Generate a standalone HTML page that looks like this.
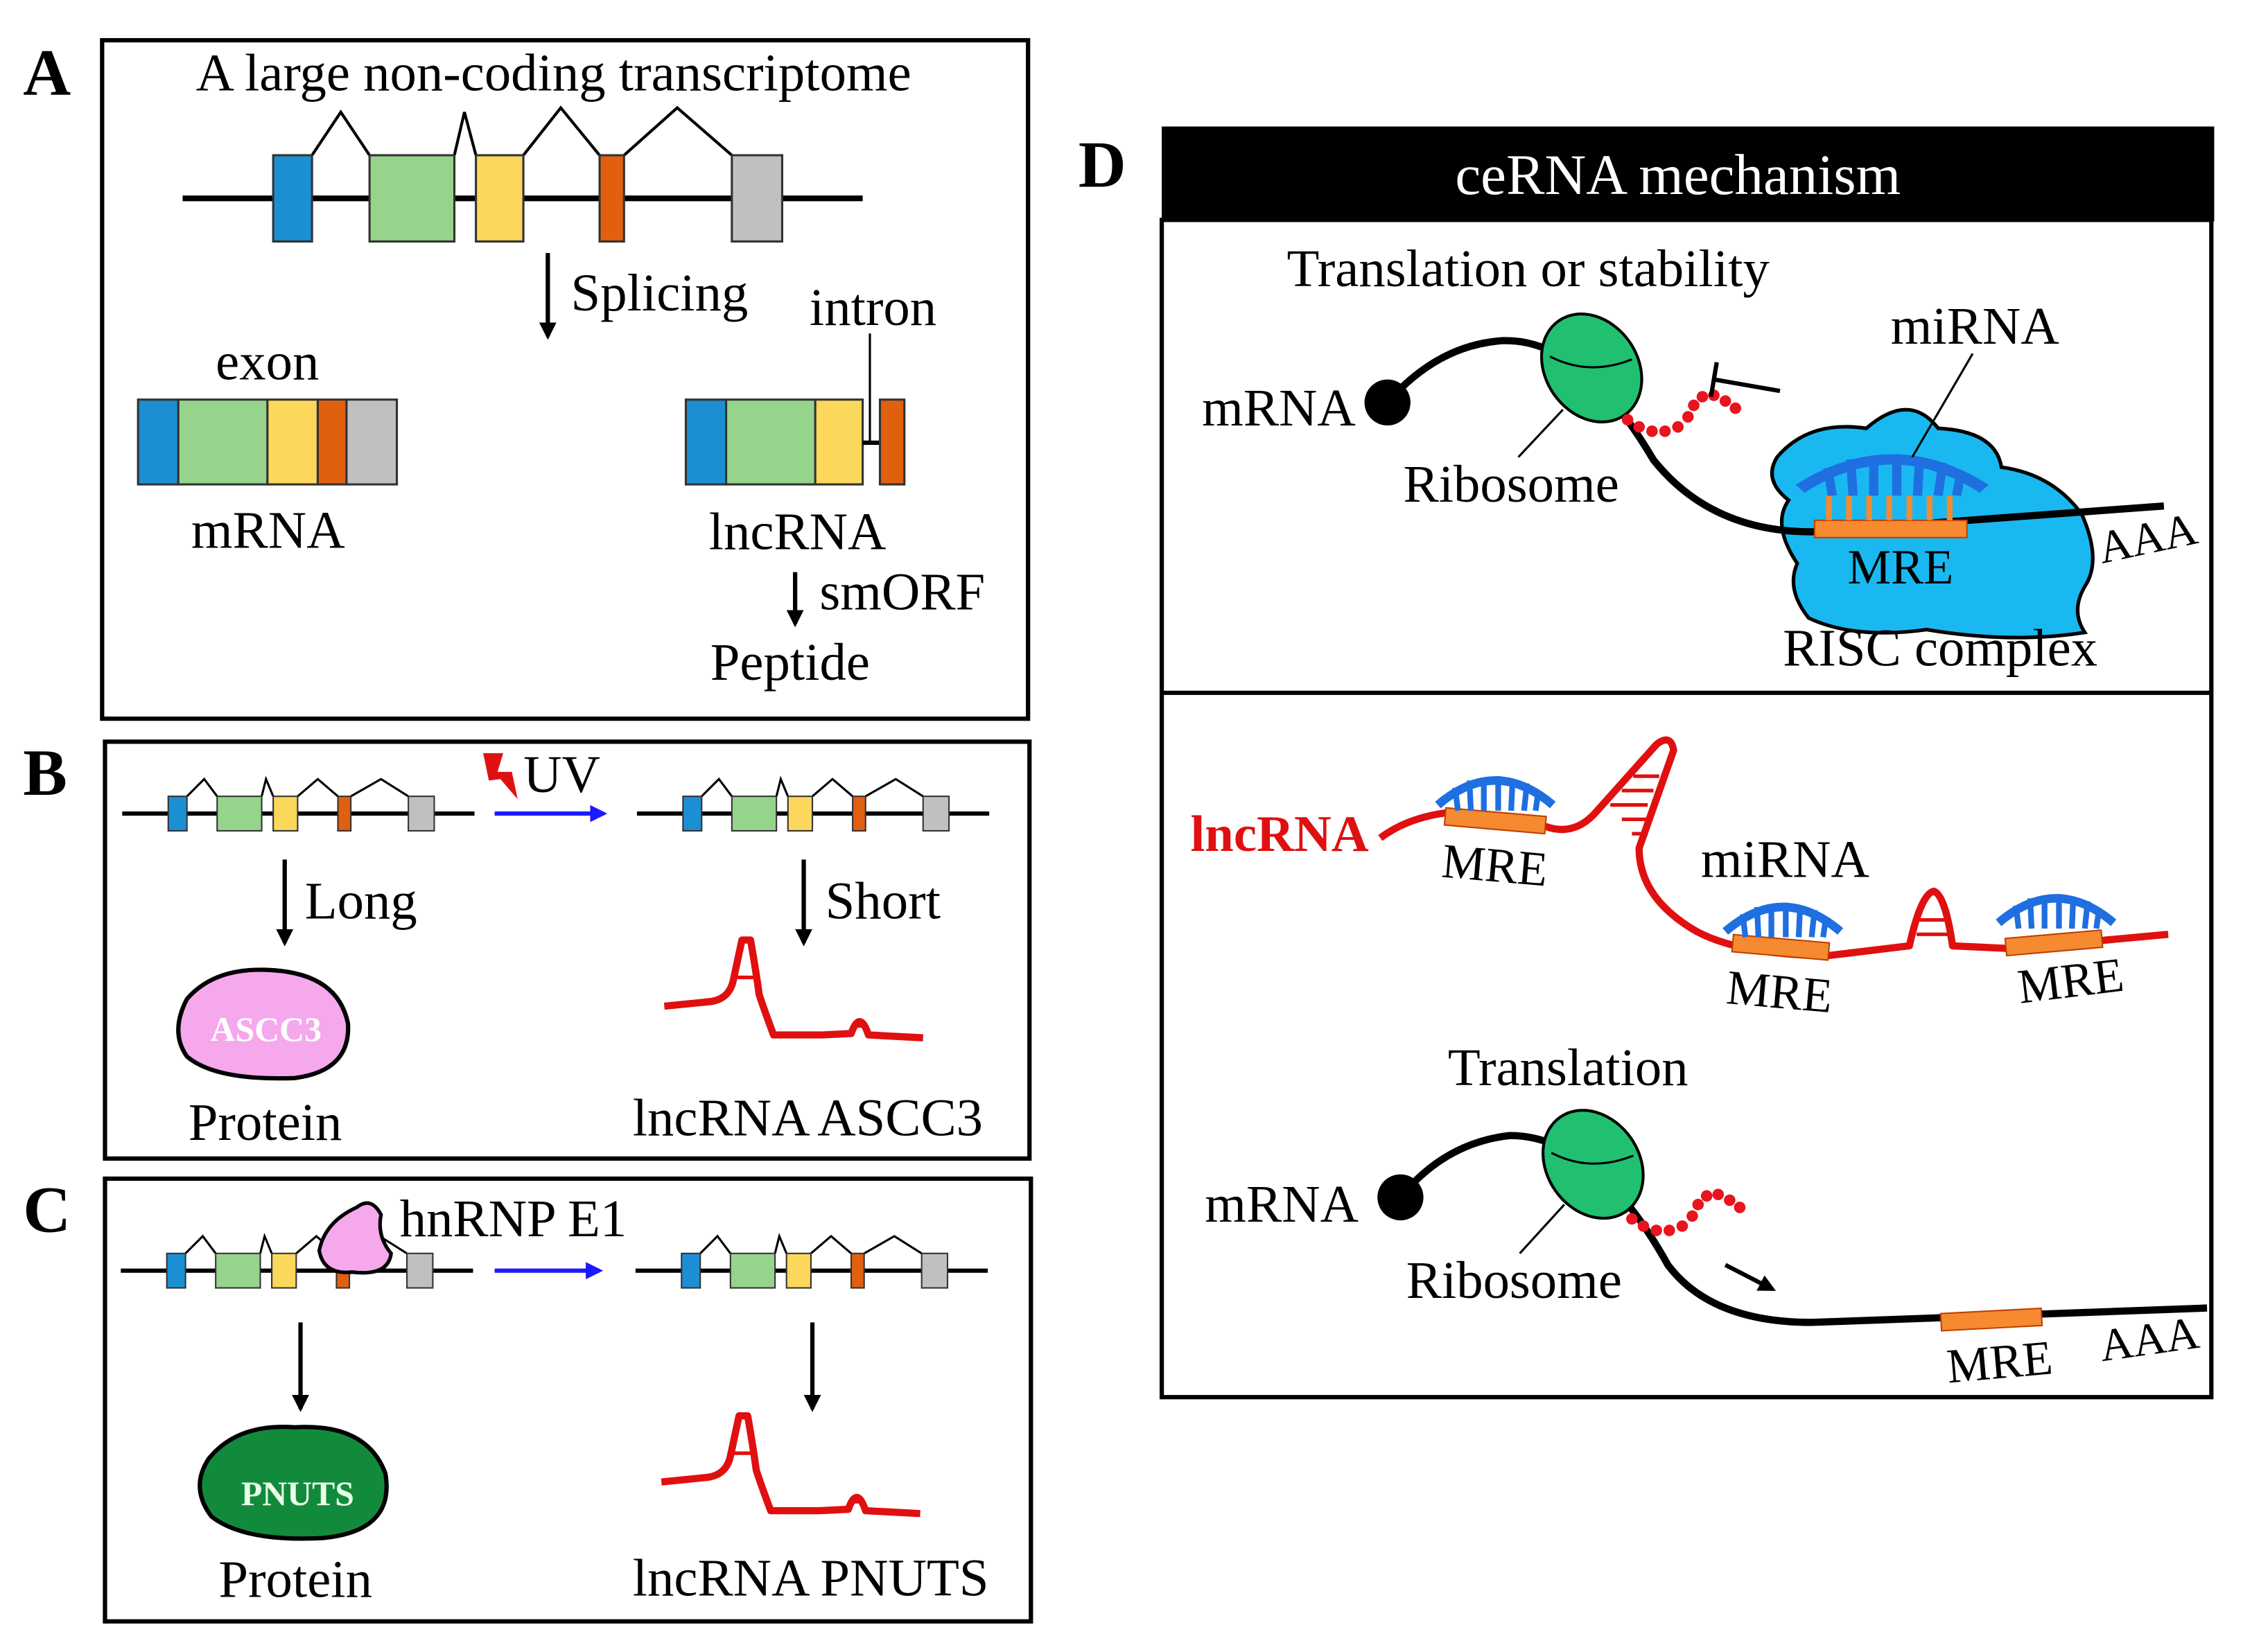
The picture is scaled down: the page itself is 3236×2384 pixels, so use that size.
<!DOCTYPE html>
<html><head><meta charset="utf-8"><style>
html,body{margin:0;padding:0;background:#fff;}
svg{display:block;}
text{font-family:"Liberation Serif",serif;fill:#000;}
</style></head><body>
<svg width="3236" height="2384" viewBox="0 0 1560 1149.3" xmlns="http://www.w3.org/2000/svg">
<defs>
<marker id="ah" viewBox="0 0 10 10" refX="8" refY="5" markerWidth="4" markerHeight="4" orient="auto"><path d="M0,0L10,5L0,10z" fill="#000"/></marker>
<marker id="ahb" viewBox="0 0 10 10" refX="8" refY="5" markerWidth="4" markerHeight="4" orient="auto"><path d="M0,0L10,5L0,10z" fill="#1a1aff"/></marker>
<g id="miR">
<path d="M-40,0 Q0,-34 40,0" fill="none" stroke="#1f6fe0" stroke-width="6"/>
<g stroke="#1f6fe0" stroke-width="4">
<line x1="-28" y1="-12" x2="-26" y2="4"/><line x1="-18" y1="-17" x2="-17" y2="4"/><line x1="-8" y1="-19" x2="-8" y2="4"/><line x1="2" y1="-20" x2="2" y2="4"/><line x1="12" y1="-18" x2="11" y2="4"/><line x1="22" y1="-15" x2="20" y2="4"/><line x1="30" y1="-10" x2="28" y2="4"/>
</g></g>
<g id="beads" fill="#e8141e">
<circle cx="0" cy="0" r="4"/><circle cx="8" cy="5" r="4"/><circle cx="17" cy="8" r="4"/><circle cx="26" cy="8" r="4"/><circle cx="35" cy="5" r="4"/><circle cx="42" cy="-2" r="4"/><circle cx="46" cy="-10" r="4"/><circle cx="52" cy="-16" r="4"/><circle cx="60" cy="-17" r="4"/><circle cx="68" cy="-13" r="4"/><circle cx="75" cy="-8" r="4"/>
</g>
<g id="sg">
<line x1="0" y1="12" x2="245" y2="12" stroke="#000" stroke-width="3"/>
<path d="M45,0L57,-12L66,0M97,0L100,-12L105,0M122,0L136,-12L150,0M159,0L180,-12L199,0" fill="none" stroke="#000" stroke-width="1.5"/>
<rect x="32" y="0" width="13" height="24" fill="#1c8fd4" stroke="#333"/>
<rect x="66" y="0" width="31" height="24" fill="#96d48c" stroke="#333"/>
<rect x="105" y="0" width="17" height="24" fill="#fbd75b" stroke="#333"/>
<rect x="150" y="0" width="9" height="24" fill="#e06010" stroke="#333"/>
<rect x="199" y="0" width="18" height="24" fill="#c0c0c0" stroke="#333"/>
</g>
<g id="lnc" fill="none" stroke="#e01010" stroke-width="5" stroke-linejoin="round">
<path d="M0,48 L30,45 Q45,44 48,30 L54,2 L60,2 Q64,25 66,40 Q70,52 76,68 L110,68 L130,67 Q136,50 142,68 L180,70"/>
<line x1="47" y1="28" x2="64" y2="28" stroke-width="2.5"/>
<line x1="132" y1="62" x2="140" y2="62" stroke-width="2"/>
</g>
</defs>

<!-- Panel A -->
<text x="16" y="66" font-size="46" font-weight="bold">A</text>
<rect x="71" y="28" width="644" height="472" fill="none" stroke="#000" stroke-width="3"/>
<text x="385" y="63" font-size="37" text-anchor="middle">A large non-coding transcriptome</text>
<line x1="127" y1="138" x2="600" y2="138" stroke="#000" stroke-width="4"/>
<path d="M217,108L237,78L257,108M316,108L323,78L331,108M364,108L390,75L417,108M434,108L471,75L509,108" fill="none" stroke="#000" stroke-width="2"/>
<rect x="190" y="108" width="27" height="60" fill="#1c8fd4" stroke="#333" stroke-width="1.5"/>
<rect x="257" y="108" width="59" height="60" fill="#96d48c" stroke="#333" stroke-width="1.5"/>
<rect x="331" y="108" width="33" height="60" fill="#fbd75b" stroke="#333" stroke-width="1.5"/>
<rect x="417" y="108" width="17" height="60" fill="#e06010" stroke="#333" stroke-width="1.5"/>
<rect x="509" y="108" width="35" height="60" fill="#c0c0c0" stroke="#333" stroke-width="1.5"/>
<line x1="381" y1="176" x2="381" y2="234" stroke="#000" stroke-width="3" marker-end="url(#ah)"/>
<text x="397" y="216" font-size="37">Splicing</text>
<text x="563" y="226" font-size="37">intron</text>
<text x="150" y="264" font-size="37">exon</text>
<rect x="96" y="278" width="28" height="59" fill="#1c8fd4" stroke="#333" stroke-width="1.5"/>
<rect x="124" y="278" width="62" height="59" fill="#96d48c" stroke="#333" stroke-width="1.5"/>
<rect x="186" y="278" width="35" height="59" fill="#fbd75b" stroke="#333" stroke-width="1.5"/>
<rect x="221" y="278" width="20" height="59" fill="#e06010" stroke="#333" stroke-width="1.5"/>
<rect x="241" y="278" width="35" height="59" fill="#c0c0c0" stroke="#333" stroke-width="1.5"/>
<text x="133" y="381" font-size="37">mRNA</text>
<rect x="477" y="278" width="28" height="59" fill="#1c8fd4" stroke="#333" stroke-width="1.5"/>
<rect x="505" y="278" width="62" height="59" fill="#96d48c" stroke="#333" stroke-width="1.5"/>
<rect x="567" y="278" width="33" height="59" fill="#fbd75b" stroke="#333" stroke-width="1.5"/>
<line x1="600" y1="308" x2="612" y2="308" stroke="#000" stroke-width="3"/>
<rect x="612" y="278" width="17" height="59" fill="#e06010" stroke="#333" stroke-width="1.5"/>
<line x1="605" y1="232" x2="605" y2="307" stroke="#000" stroke-width="1.5"/>
<text x="493" y="382" font-size="37">lncRNA</text>
<line x1="553" y1="398" x2="553" y2="434" stroke="#000" stroke-width="3" marker-end="url(#ah)"/>
<text x="570" y="424" font-size="37">smORF</text>
<text x="494" y="473" font-size="37">Peptide</text>

<!-- Panel B -->
<text x="16" y="553" font-size="46" font-weight="bold">B</text>
<rect x="73" y="516" width="643" height="290" fill="none" stroke="#000" stroke-width="3"/>
<use href="#sg" x="85" y="554"/>
<use href="#sg" x="443" y="554"/>
<line x1="344" y1="566" x2="420" y2="566" stroke="#1a1aff" stroke-width="3" marker-end="url(#ahb)"/>
<path d="M336,524L350,524L346,537L356,537L360,556L348,542L340,543Z" fill="#e01010"/>
<text x="364" y="551" font-size="37">UV</text>
<line x1="198" y1="598" x2="198" y2="656" stroke="#000" stroke-width="3" marker-end="url(#ah)"/>
<text x="212" y="639" font-size="37">Long</text>
<line x1="559" y1="598" x2="559" y2="656" stroke="#000" stroke-width="3" marker-end="url(#ah)"/>
<text x="574" y="639" font-size="37">Short</text>
<path d="M130,695 Q150,672 190,675 Q235,678 242,712 Q244,745 205,750 Q150,752 130,735 Q118,718 130,695Z" fill="#f5a8ec" stroke="#000" stroke-width="3"/>
<text x="185" y="724" font-size="24" font-weight="bold" text-anchor="middle" style="fill:#fff">ASCC3</text>
<text x="131" y="793" font-size="37">Protein</text>
<use href="#lnc" x="462" y="652"/>
<text x="440" y="790" font-size="37">lncRNA ASCC3</text>

<!-- Panel C -->
<text x="16" y="857" font-size="46" font-weight="bold">C</text>
<rect x="73" y="820" width="644" height="308" fill="none" stroke="#000" stroke-width="3"/>
<use href="#sg" x="84" y="872"/>
<use href="#sg" x="442" y="872"/>
<path d="M222,870 Q226,850 248,840 Q258,832 265,845 Q262,860 272,872 Q270,888 245,885 Q225,887 222,870Z" fill="#f5a8ec" stroke="#000" stroke-width="2.5"/>
<text x="278" y="860" font-size="37">hnRNP E1</text>
<line x1="344" y1="884" x2="417" y2="884" stroke="#1a1aff" stroke-width="3" marker-end="url(#ahb)"/>
<line x1="209" y1="920" x2="209" y2="980" stroke="#000" stroke-width="3" marker-end="url(#ah)"/>
<line x1="565" y1="920" x2="565" y2="980" stroke="#000" stroke-width="3" marker-end="url(#ah)"/>
<path d="M145,1015 Q165,990 205,993 Q255,990 268,1025 Q275,1065 225,1070 Q170,1073 147,1055 Q132,1035 145,1015Z" fill="#128a3c" stroke="#000" stroke-width="3"/>
<text x="207" y="1047" font-size="24" font-weight="bold" text-anchor="middle" style="fill:#e8ffe8">PNUTS</text>
<text x="152" y="1111" font-size="37">Protein</text>
<use href="#lnc" x="460" y="983"/>
<text x="440" y="1110" font-size="37">lncRNA PNUTS</text>

<!-- Panel D -->
<text x="750" y="130" font-size="46" font-weight="bold">D</text>
<rect x="808" y="88" width="732" height="66" fill="#000"/>
<text x="1167" y="135" font-size="40" text-anchor="middle" style="fill:#fff">ceRNA mechanism</text>
<rect x="808" y="153" width="730" height="819" fill="none" stroke="#000" stroke-width="3"/>
<line x1="808" y1="482" x2="1538" y2="482" stroke="#000" stroke-width="3"/>
<text x="895" y="199" font-size="37">Translation or stability</text>
<text x="836" y="296" font-size="37">mRNA</text>
<path d="M1236,318 Q1258,292 1298,298 Q1328,272 1348,298 Q1388,300 1392,325 Q1428,330 1448,358 Q1462,390 1450,408 Q1440,425 1450,440 Q1400,448 1340,438 Q1290,445 1258,430 Q1242,410 1250,392 Q1232,365 1244,348 Q1226,334 1236,318Z" fill="#1ab8f0" stroke="#000" stroke-width="2.5"/>
<path d="M965,280 Q1000,240 1045,237 Q1100,235 1150,320 Q1190,370 1260,370 L1505,352" fill="none" stroke="#000" stroke-width="5"/>
<circle cx="965" cy="280" r="16" fill="#000"/>
<ellipse cx="1107" cy="256" rx="32" ry="40" transform="rotate(-35 1107 256)" fill="#20c070" stroke="#000" stroke-width="2"/>
<path d="M1078,248 Q1105,262 1135,250" fill="none" stroke="#000" stroke-width="1.5"/>
<use href="#beads" x="1132" y="292"/>
<line x1="1192" y1="264" x2="1238" y2="272" stroke="#000" stroke-width="3"/>
<line x1="1194" y1="252" x2="1190" y2="276" stroke="#000" stroke-width="3"/>
<g transform="translate(1316,340) scale(1.6,1.2)"><use href="#miR"/></g>
<rect x="1262" y="362" width="106" height="12" fill="#f58a30" stroke="#c04000" stroke-width="1"/>
<g stroke="#f58a30" stroke-width="4"><line x1="1272" y1="345" x2="1272" y2="362"/><line x1="1286" y1="345" x2="1286" y2="362"/><line x1="1300" y1="345" x2="1300" y2="362"/><line x1="1314" y1="345" x2="1314" y2="362"/><line x1="1328" y1="345" x2="1328" y2="362"/><line x1="1342" y1="345" x2="1342" y2="362"/><line x1="1356" y1="345" x2="1356" y2="362"/></g>
<text x="1285" y="406" font-size="34">MRE</text>
<text x="1462" y="392" font-size="32" transform="rotate(-12 1462 392)">AAA</text>
<text x="1315" y="239" font-size="37">miRNA</text>
<line x1="1372" y1="246" x2="1330" y2="318" stroke="#000" stroke-width="1.5"/>
<text x="976" y="349" font-size="37">Ribosome</text>
<line x1="1056" y1="318" x2="1087" y2="285" stroke="#000" stroke-width="1.5"/>
<text x="1240" y="463" font-size="37">RISC complex</text>

<text x="828" y="592" font-size="36" font-weight="bold" style="fill:#e01010">lncRNA</text>
<path d="M960,583 Q980,568 1010,565 L1075,575 Q1095,582 1110,565 L1152,518 Q1162,510 1164,522 L1140,590 Q1140,625 1180,648 Q1210,664 1270,665 L1328,658 Q1336,622 1345,620 Q1353,623 1358,658 L1400,660 L1508,650" fill="none" stroke="#e01010" stroke-width="5" stroke-linejoin="round"/>
<g stroke="#e01010" stroke-width="2.5"><line x1="1120" y1="560" x2="1146" y2="560"/><line x1="1128" y1="570" x2="1149" y2="570"/><line x1="1135" y1="580" x2="1146" y2="580"/><line x1="1128" y1="550" x2="1150" y2="550"/><line x1="1136" y1="540" x2="1154" y2="540"/><line x1="1335" y1="640" x2="1354" y2="640"/><line x1="1333" y1="650" x2="1356" y2="650"/></g>
<rect x="1005" y="565" width="70" height="12" fill="#f58a30" stroke="#c04000" transform="rotate(5 1040 571)"/>
<rect x="1205" y="653" width="67" height="12" fill="#f58a30" stroke="#c04000" transform="rotate(5 1238 659)"/>
<rect x="1395" y="650" width="67" height="12" fill="#f58a30" stroke="#c04000" transform="rotate(-5 1428 656)"/>
<g transform="translate(1040,560)"><use href="#miR"/></g>
<g transform="translate(1240,648)"><use href="#miR"/></g>
<g transform="translate(1430,642)"><use href="#miR"/></g>
<text x="1002" y="610" font-size="34" transform="rotate(5 1002 610)">MRE</text>
<text x="1183" y="610" font-size="37">miRNA</text>
<text x="1200" y="698" font-size="34" transform="rotate(5 1200 698)">MRE</text>
<text x="1405" y="698" font-size="34" transform="rotate(-7 1405 698)">MRE</text>

<text x="1007" y="755" font-size="37">Translation</text>
<text x="838" y="850" font-size="37">mRNA</text>
<path d="M974,833 Q1005,795 1050,790 Q1110,790 1160,880 Q1190,920 1260,920 L1535,910" fill="none" stroke="#000" stroke-width="5"/>
<circle cx="974" cy="833" r="16" fill="#000"/>
<ellipse cx="1108" cy="810" rx="32" ry="40" transform="rotate(-35 1108 810)" fill="#20c070" stroke="#000" stroke-width="2"/>
<path d="M1079,802 Q1106,816 1136,804" fill="none" stroke="#000" stroke-width="1.5"/>
<use href="#beads" x="1135" y="848"/>
<line x1="1200" y1="880" x2="1233" y2="897" stroke="#000" stroke-width="3" marker-end="url(#ah)"/>
<rect x="1350" y="912" width="70" height="12" fill="#f58a30" stroke="#c04000" transform="rotate(-3 1385 918)"/>
<text x="1355" y="962" font-size="34" transform="rotate(-5 1355 962)">MRE</text>
<text x="1462" y="947" font-size="32" transform="rotate(-8 1462 947)">AAA</text>
<text x="978" y="903" font-size="37">Ribosome</text>
<line x1="1057" y1="872" x2="1088" y2="838" stroke="#000" stroke-width="1.5"/>
</svg>
</body></html>
